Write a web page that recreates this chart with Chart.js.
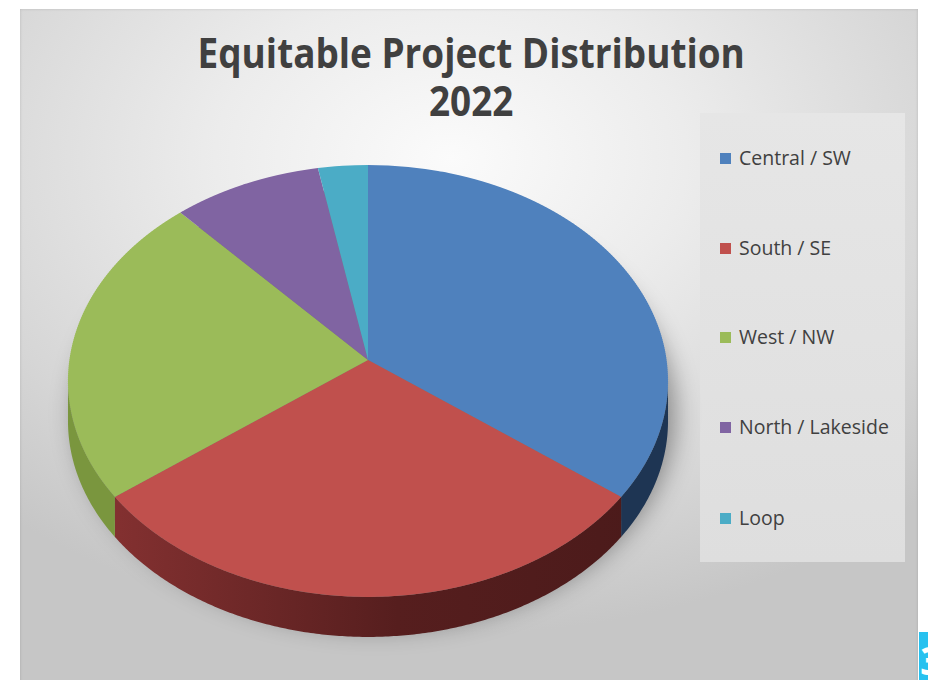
<!DOCTYPE html>
<html>
<head>
<meta charset="utf-8">
<script src="https://cdn.jsdelivr.net/npm/chart.js@4/dist/chart.umd.min.js"></script>
<style>
  html, body { margin: 0; padding: 0; background: #ffffff; }
  #page { position: relative; width: 928px; height: 680px; overflow: hidden; }
  #frame { position: absolute; left: 20px; top: 9px; width: 898px; height: 680px;
    background: radial-gradient(ellipse 75% 70% at 48% 22%, #fbfbfb 0%, #ececec 35%, #d6d6d6 75%, #c6c6c6 100%);
    box-shadow: inset 0 0 3px rgba(0,0,0,0.15); }
  .title { position: absolute; left: 20px; width: 898px; text-align: center; white-space: nowrap;
    font-family: "Open Sans", sans-serif; font-weight: 700; font-size: 41px; color: #404040;
    line-height: 56px; transform: scaleX(0.9); transform-origin: 471px 0; }
  #legendBox { position: absolute; left: 700px; top: 113px; width: 205px; height: 449px;
    background: linear-gradient(180deg, #e6e6e6, #dedede); }
  .li { position: absolute; left: 739px; font-family: "Open Sans", sans-serif; font-size: 19.5px; color: #404040; line-height: 20px; white-space: nowrap; }
  .sw { position: absolute; left: 720px; width: 11px; height: 11px; }
  #chart { position: absolute; left: 0; top: 0; pointer-events: none; }
  #tab { position: absolute; left: 919px; top: 632px; width: 20px; height: 48px; background: #28c1ef; overflow: hidden; }
  #tab span { position: absolute; left: 1px; top: 8px; font-family: "Open Sans", sans-serif; font-weight: 700; font-size: 40px; color: #ffffff; line-height: 40px; }
</style>
</head>
<body>
<div id="page">
  <div id="frame"></div>
  <div class="title" style="top:24px;">Equitable Project Distribution</div>
  <div class="title" style="top:72px;">2022</div>
  <div id="legendBox"></div>
  <div id="legend"></div>
  <canvas id="chart" width="928" height="680"></canvas>
  <div id="tab"><span>3</span></div>
</div>
<script>
const categories = ["Central / SW", "South / SE", "West / NW", "North / Lakeside", "Loop"];
const projectCounts = [12, 10, 8, 3, 1];
const topColors = ["#4f81bd", "#c0504d", "#9bbb59", "#8064a2", "#4bacc6"];
const sideColors = ["#1e3553", "#5a2020", "#7a963e", "#4a3863", "#2c6c7d"];

// HTML legend (real text)
const legendTops = [148, 238, 327, 417, 508];
const lg = document.getElementById('legend');
categories.forEach((c, i) => {
  const s = document.createElement('div');
  s.className = 'sw';
  s.style.top = (legendTops[i] + 5) + 'px';
  s.style.background = topColors[i];
  lg.appendChild(s);
  const d = document.createElement('div');
  d.className = 'li';
  d.style.top = legendTops[i] + 'px';
  d.textContent = c;
  lg.appendChild(d);
});

// 3D perspective view parameters (screen space)
const VIEW = { hx: 368, hy: 360, rx: 298.6, ry: 213.9, persp: 0.0972, depth: 40 };

function rimPoint(theta, dy) {
  const w = 1 - VIEW.persp * Math.sin(theta);
  return [VIEW.hx + VIEW.rx * Math.cos(theta) / w, VIEW.hy + VIEW.ry * Math.sin(theta) / w + (dy || 0)];
}

const pie3d = {
  id: 'pie3d',
  beforeDatasetsDraw(chart) {
    const ctx = chart.ctx;
    const meta = chart.getDatasetMeta(0);
    const arcs = meta.data;
    if (!arcs.length) return;
    const p0 = arcs[0].getProps(['x', 'y', 'outerRadius']);
    const cx = p0.x, cy = p0.y, Rc = p0.outerRadius;
    const W = chart.width;

    // soft shadow under the pie
    ctx.save();
    ctx.shadowColor = 'rgba(0,0,0,0.38)';
    ctx.shadowBlur = 24;
    ctx.shadowOffsetX = 7;
    ctx.shadowOffsetY = 8;
    ctx.beginPath();
    for (let k = 0; k <= 360; k++) {
      const pt = rimPoint(k * Math.PI / 180, VIEW.depth * 0.6);
      if (k === 0) ctx.moveTo(pt[0], pt[1]); else ctx.lineTo(pt[0], pt[1]);
    }
    ctx.closePath();
    ctx.fillStyle = '#777';
    ctx.fill();
    ctx.restore();

    // side walls
    const thR = Math.asin(VIEW.persp), thL = Math.PI - thR;
    arcs.forEach((arc, i) => {
      const p = arc.getProps(['startAngle', 'endAngle']);
      const lo = Math.max(p.startAngle, thR), hi = Math.min(p.endAngle, thL);
      if (hi <= lo) return;
      const n = Math.max(4, Math.ceil((hi - lo) * 180 / Math.PI * 2));
      ctx.beginPath();
      for (let k = 0; k <= n; k++) {
        const pt = rimPoint(lo + (hi - lo) * k / n, 0);
        if (k === 0) ctx.moveTo(pt[0], pt[1]); else ctx.lineTo(pt[0], pt[1]);
      }
      for (let k = n; k >= 0; k--) {
        const pt = rimPoint(lo + (hi - lo) * k / n, VIEW.depth);
        ctx.lineTo(pt[0], pt[1]);
      }
      ctx.closePath();
      let g = ctx.createLinearGradient(VIEW.hx - VIEW.rx, 0, VIEW.hx + VIEW.rx, 0);
      if (i === 1) {
        g.addColorStop(0, '#8a3333');
        g.addColorStop(0.3, '#6e2828');
        g.addColorStop(0.55, '#561e1e');
        g.addColorStop(1, '#4a1a1a');
      } else {
        g = sideColors[i];
      }
      ctx.fillStyle = g;
      ctx.fill();
    });

    // top surface: Chart.js arcs drawn in thin horizontal strips, each with its own affine map
    const Ytop = VIEW.hy - VIEW.ry / (1 + VIEW.persp);
    const Ybot = VIEW.hy + VIEW.ry / (1 - VIEW.persp);
    const invV = (Y) => { const t = Y - VIEW.hy; return t / (VIEW.ry + VIEW.persp * t); };
    const step = 2;
    for (let Ya = Math.floor(Ytop) - 2; Ya < Ybot + 2; Ya += step) {
      const va = invV(Ya), vb = invV(Ya + step);
      const vm = (va + vb) / 2;
      const wm = 1 - VIEW.persp * vm;
      const Ym = VIEW.hy + VIEW.ry * vm / wm;
      const a = VIEW.rx / (Rc * wm);
      const d = VIEW.ry / (Rc * wm * wm);
      ctx.save();
      ctx.setTransform(1, 0, 0, 1, 0, 0);
      ctx.beginPath();
      ctx.rect(0, Ya, W, step);
      ctx.clip();
      ctx.setTransform(a, 0, 0, d, VIEW.hx - a * cx, Ym - d * (cy + Rc * vm));
      meta.controller.draw();
      ctx.restore();
    }
    return false;
  }
};

new Chart(document.getElementById('chart'), {
  type: 'pie',
  data: {
    labels: categories,
    datasets: [{
      data: projectCounts,
      backgroundColor: topColors,
      borderWidth: 0
    }]
  },
  options: {
    responsive: false,
    animation: false,
    events: [],
    layout: { padding: { left: 68, right: 260, top: 75, bottom: 5 } },
    plugins: { legend: { display: false }, title: { display: false }, tooltip: { enabled: false } }
  },
  plugins: [pie3d]
});
</script>
</body>
</html>
